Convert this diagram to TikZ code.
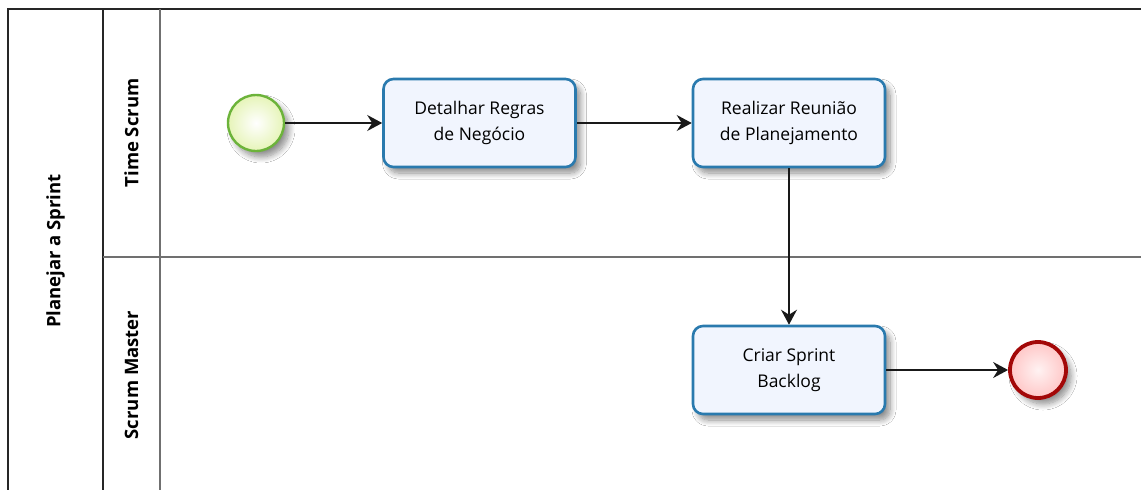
\documentclass[tikz,border=0pt]{standalone}
\usepackage{fontspec}
\setmainfont{Open Sans}
\usetikzlibrary{arrows.meta,shadows.blur,calc}
\definecolor{taskborder}{HTML}{2A7AAE}
\definecolor{taskfill}{HTML}{F1F5FE}
\definecolor{startborder}{HTML}{6CB33A}
\definecolor{startfill}{HTML}{E6F4B8}
\definecolor{endborder}{HTML}{A30808}
\definecolor{laneline}{HTML}{707070}
\tikzset{
  evshadow/.style={blur shadow={shadow xshift=5pt, shadow yshift=-6pt, shadow blur steps=10, shadow blur radius=6pt, shadow opacity=45}},
  task/.style={draw=taskborder, line width=2.6pt, fill=taskfill, rounded corners=10pt,
    minimum width=192pt, minimum height=88pt, align=center, font=\fontsize{17.5}{26}\selectfont,
    evshadow},
  startev/.style={circle, draw=startborder, line width=2.4pt, minimum size=56pt, inner sep=0pt,
    inner color=white, outer color=startfill, evshadow},
  endev/.style={circle, draw=endborder, line width=3.8pt, minimum size=56pt, inner sep=0pt,
    inner color=red!5!white, outer color=red!22!white, evshadow},
  flow/.style={draw=black!90, line width=1.5pt, -{Stealth[length=15pt,width=16pt,inset=5pt]}},
  lanelbl/.style={rotate=90, font=\bfseries\fontsize{18.5}{22}\selectfont},
  poolline/.style={draw=black!85, line width=1.6pt},
  laneline/.style={draw=laneline, line width=1.6pt}
}
\begin{document}
\begin{tikzpicture}[x=1pt, y=-1pt]
\useasboundingbox (0,0) rectangle (1141,490);
\fill[white] (0,0) rectangle (1141,490);
% pool and lanes
\draw[poolline] (8,495) -- (8,9) -- (1145,9);
\draw[poolline] (103,9) -- (103,495);
\draw[laneline] (160,9) -- (160,495);
\draw[laneline] (103,257) -- (1145,257);
\node[lanelbl] (pool) at (55.5,251) {Planejar a Sprint};
\node[lanelbl] (lane1) at (131.5,133) {Time Scrum};
\node[lanelbl] (lane2) at (131.5,375) {Scrum Master};
% elements
\node[startev] (start) at (256,123) {};
\node[task] (t1) at (479.5,123) {Detalhar Regras\\de Negócio};
\node[task] (t2) at (789,123) {Realizar Reunião\\de Planejamento};
\node[task] (t3) at (789,370) {Criar Sprint\\Backlog};
\node[endev] (end) at (1038,370) {};
% flows
\draw[flow] (start) -- (t1);
\draw[flow] (t1) -- (t2);
\draw[flow] (t2) -- (t3);
\draw[flow] (t3) -- (end);
\end{tikzpicture}
\end{document}
